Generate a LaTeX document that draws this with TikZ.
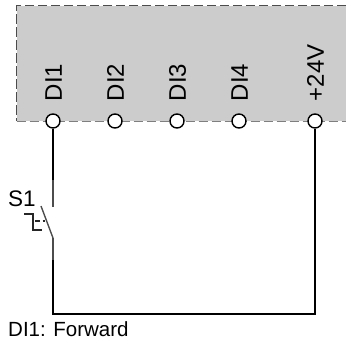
\documentclass[tikz,border=0pt]{standalone}
\usepackage{fontspec}
\setmainfont{Liberation Sans}
\definecolor{panelgray}{HTML}{CCCCCC}
\definecolor{dashgray}{HTML}{7F7F7F}
\begin{document}
\begin{tikzpicture}[x=1pt, y=-1pt, node distance=62pt, font=\fontsize{20.5}{24}\selectfont,
    terminal/.style={draw, circle, fill=white, line width=1.4pt, minimum size=14pt, inner sep=0pt},
    pinlabel/.style={rotate=90, anchor=west, inner sep=0pt, font=\fontsize{24}{26}\selectfont},
    wire/.style={line width=1.4pt},
    contact/.style={line width=1.4pt, black!70}]
    \useasboundingbox (0,0) rectangle (346,341);
    \fill[panelgray] (16.5,5.5) rectangle (346,121);
    \draw[black!70, line width=1pt, dash pattern=on 9.5pt off 3.5pt] (346,5.5) -- (16.5,5.5) -- (16.5,121);
    \draw[dashgray, line width=1pt, dash pattern=on 9.5pt off 3.5pt] (16.5,121) -- (346,121);
    \node[terminal] (di1) at (53,121) {};
    \node[terminal, right of=di1] (di2) {};
    \node[terminal, right of=di2] (di3) {};
    \node[terminal, right of=di3] (di4) {};
    \node[terminal, right of=di4, node distance=76pt] (v24) {};
    \node[pinlabel] at (53.5,101.5) {DI1};
    \node[pinlabel] at (115.5,101.5) {DI2};
    \node[pinlabel] at (177.5,101.5) {DI3};
    \node[pinlabel] at (239.5,101.5) {DI4};
    \node[pinlabel] at (315.5,101.5) {+24V};
    \coordinate (s1top) at (53,180);
    \coordinate (s1fixed) at (53,206.5);
    \coordinate (s1blade) at (41,206);
    \coordinate (s1hinge) at (53,238);
    \coordinate (s1low) at (53,314);
    \coordinate (s1right) at (315,314);
    \draw[wire] (di1) -- (s1top);
    \draw[contact] (s1top) -- (s1fixed);
    \draw[contact] (s1blade) -- (s1hinge);
    \draw[contact] (s1hinge) -- (53,260);
    \draw[wire] (53,260) -- (s1low) -- (s1right) -- (v24);
    \draw[wire, black!85] (24,214) -- (33,214) -- (33,230) -- (42,230);
    \draw[wire, black!85] (35,221) -- (40,221) (42.5,221) -- (45,221);
    \node[anchor=base west, inner sep=0pt, font=\fontsize{22.5}{24}\selectfont] (s1) at (8,206) {S1};
    \node[anchor=base west, inner sep=0pt] (caption) at (8,336) {DI1: Forward};
\end{tikzpicture}
\end{document}
